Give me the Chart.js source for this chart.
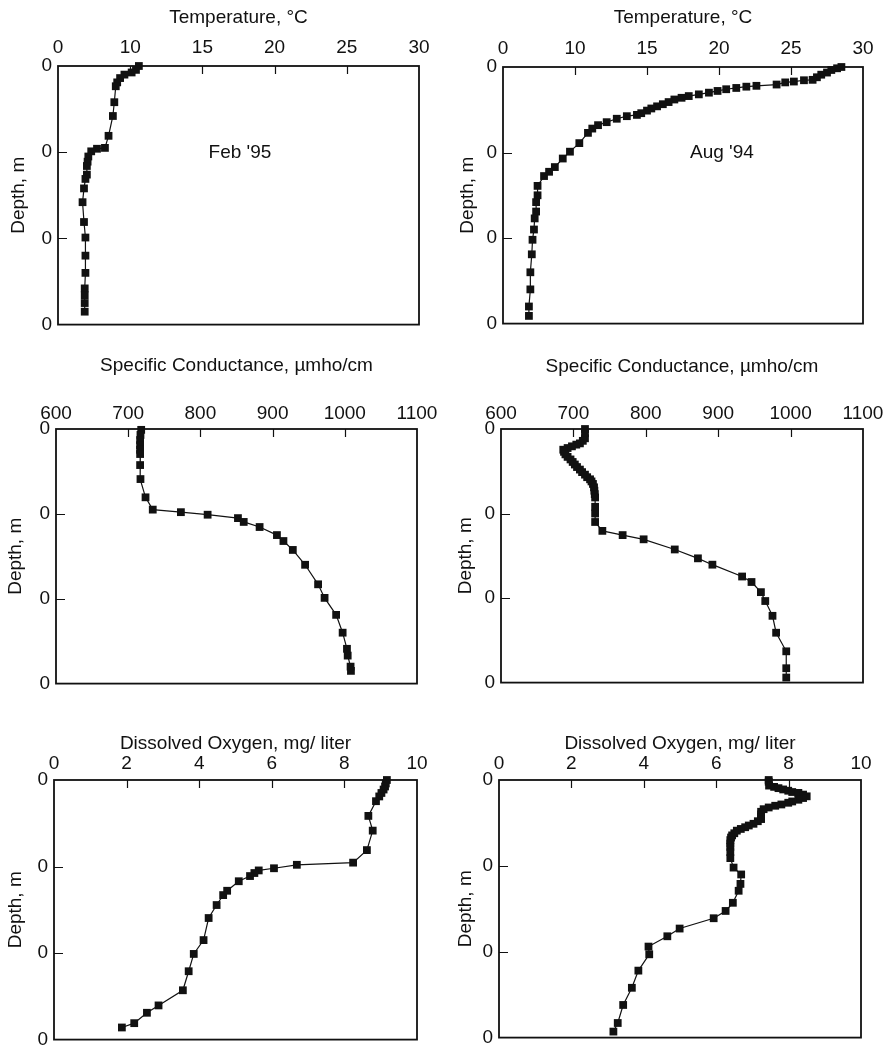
<!DOCTYPE html>
<html>
<head>
<meta charset="utf-8">
<script src="https://cdn.jsdelivr.net/npm/chart.js@4.4.0/dist/chart.umd.min.js"></script>
<style>
  html, body { margin: 0; padding: 0; background: #fff; overflow: hidden; }
  #page { position: relative; width: 887px; height: 1050px; }
  canvas { position: absolute; }
</style>
</head>
<body>
<div id="page">
  <canvas id="tempFeb"></canvas>
  <canvas id="tempAug"></canvas>
  <canvas id="condFeb"></canvas>
  <canvas id="condAug"></canvas>
  <canvas id="doFeb"></canvas>
  <canvas id="doAug"></canvas>
</div>
<script>
// depth axis (shared)
const depthTicks = [0, 10, 20, 30];
const depthTickLabels = ['0', '0', '0', '0'];

// x axes
const tempTicks = [5, 10, 15, 20, 25, 30];
const tempTickLabels = ['0', '10', '15', '20', '25', '30'];
const condTicks = [600, 700, 800, 900, 1000, 1100];
const condTickLabels = ['600', '700', '800', '900', '1000', '1100'];
const doTicks = [0, 2, 4, 6, 8, 10];
const doTickLabels = ['0', '2', '4', '6', '8', '10'];

// Feb '95 temperature profile
const tempFebT = [10.6, 10.4, 10.1, 9.6, 9.3, 9.1, 9.0, 8.9, 8.8, 8.5, 8.25, 7.7, 7.3, 7.1, 7.05, 7.0, 7.0, 6.9, 6.8, 6.7, 6.8, 6.9, 6.9, 6.9, 6.85, 6.85, 6.85, 6.85];
const tempFebD = [0, 0.45, 0.75, 1.0, 1.4, 1.9, 2.35, 4.2, 5.8, 8.1, 9.5, 9.6, 9.9, 10.5, 11.1, 11.6, 12.6, 13.1, 14.2, 15.8, 18.1, 19.9, 22.0, 24.0, 25.8, 26.6, 27.5, 28.5];

// Aug '94 temperature profile
const tempAugT = [28.5, 28.2, 27.8, 27.5, 27.1, 26.8, 26.5, 25.9, 25.2, 24.6, 24.0, 22.6, 21.9, 21.2, 20.5, 19.9, 19.3, 18.6, 17.9, 17.4, 16.9, 16.5, 16.1, 15.7, 15.3, 15.0, 14.6, 14.3, 13.6, 12.9, 12.2, 11.6, 11.2, 10.9, 10.3, 9.65, 9.15, 8.6, 8.2, 7.85, 7.4, 7.4, 7.3, 7.3, 7.2, 7.15, 7.05, 7.0, 6.9, 6.9, 6.8, 6.8];
const tempAugD = [0, 0.15, 0.35, 0.65, 0.9, 1.2, 1.5, 1.55, 1.7, 1.8, 2.05, 2.2, 2.3, 2.45, 2.6, 2.8, 3.0, 3.2, 3.4, 3.6, 3.8, 4.1, 4.35, 4.6, 4.85, 5.1, 5.4, 5.6, 5.75, 6.05, 6.45, 6.8, 7.2, 7.7, 8.9, 9.9, 10.7, 11.7, 12.25, 12.75, 13.9, 15.0, 15.8, 16.9, 17.7, 19.0, 20.2, 21.9, 24.0, 26.0, 28.0, 29.1];

// specific conductance
const condFebC = [718, 717, 716.5, 716.5, 716.5, 716.5, 716.5, 717, 724, 734, 773, 810, 852, 860, 882, 906, 915, 928, 945, 963, 972, 988, 997, 1003, 1004, 1008, 1008.5];
const condFebD = [0.1, 0.7, 1.3, 1.9, 2.45, 2.95, 4.25, 5.9, 8.05, 9.5, 9.8, 10.1, 10.5, 10.95, 11.55, 12.5, 13.2, 14.25, 16.0, 18.3, 19.9, 21.9, 24.0, 25.9, 26.7, 28.0, 28.5];
const condAugC = [716, 716, 716, 713, 709, 704, 698, 692, 686, 687, 689, 692, 696, 699, 702, 705, 709, 712, 716, 719, 723, 725, 727, 728.5, 729, 729.5, 730, 730, 730, 730, 740, 768, 797, 840, 872, 892, 933, 946, 959, 965, 975, 980, 994, 994, 994];
const condAugD = [0, 0.5, 1.1, 1.4, 1.7, 1.85, 2.05, 2.25, 2.45, 2.7, 3.0, 3.3, 3.6, 3.9, 4.2, 4.5, 4.8, 5.1, 5.4, 5.7, 5.95, 6.2, 6.5, 6.9, 7.3, 7.7, 8.1, 9.2, 10.0, 11.0, 12.05, 12.55, 13.05, 14.25, 15.3, 16.05, 17.45, 18.1, 19.3, 20.35, 22.1, 24.1, 26.3, 28.3, 29.4];

// dissolved oxygen
const doFebV = [9.17, 9.14, 9.12, 9.08, 9.02, 8.96, 8.87, 8.66, 8.78, 8.62, 8.24, 6.69, 6.06, 5.64, 5.52, 5.4, 5.09, 4.77, 4.66, 4.48, 4.26, 4.12, 3.85, 3.71, 3.55, 2.88, 2.56, 2.21, 1.87];
const doFebD = [0, 0.4, 0.75, 1.1, 1.5, 1.9, 2.45, 4.15, 5.85, 8.1, 9.55, 9.8, 10.2, 10.45, 10.75, 11.1, 11.7, 12.8, 13.3, 14.45, 15.95, 18.5, 20.1, 22.1, 24.3, 26.05, 26.9, 28.1, 28.6];
const doAugV = [7.45, 7.45, 7.46, 7.6, 7.72, 7.85, 7.99, 8.1, 8.27, 8.4, 8.5, 8.4, 8.27, 8.1, 7.99, 7.8, 7.63, 7.45, 7.31, 7.24, 7.24, 7.24, 7.24, 7.15, 7.03, 6.9, 6.8, 6.68, 6.57, 6.5, 6.44, 6.41, 6.39, 6.39, 6.39, 6.39, 6.39, 6.48, 6.69, 6.67, 6.62, 6.46, 6.26, 5.93, 4.99, 4.65, 4.13, 4.15, 3.85, 3.67, 3.43, 3.28, 3.16];
const doAugD = [0, 0.2, 0.65, 0.8, 0.95, 1.1, 1.25, 1.4, 1.5, 1.7, 1.9, 2.1, 2.3, 2.5, 2.65, 2.85, 3.0, 3.2, 3.4, 3.7, 4.0, 4.3, 4.55, 4.8, 5.1, 5.3, 5.5, 5.7, 5.9, 6.2, 6.45, 6.7, 7.0, 7.4, 7.8, 8.4, 9.1, 10.2, 11.0, 12.1, 12.9, 14.3, 15.25, 16.1, 17.3, 18.2, 19.4, 20.3, 22.2, 24.2, 26.2, 28.3, 29.3];

Chart.defaults.font.family = "'Liberation Sans', Arial, sans-serif";
Chart.defaults.color = '#111';

// box frame + inward tick marks + panel note
const framePlugin = {
  id: 'frame',
  afterDraw(chart, args, opts) {
    const { ctx, chartArea: a, scales } = chart;
    ctx.save();
    ctx.strokeStyle = '#111';
    ctx.lineWidth = 1.2;
    ctx.beginPath();
    scales.x.ticks.forEach((t, i, arr) => {
      if (i === 0 || i === arr.length - 1) return;
      const px = Math.round(scales.x.getPixelForValue(t.value)) + 0.5;
      ctx.moveTo(px, a.top);
      ctx.lineTo(px, a.top + 8);
    });
    scales.y.ticks.forEach((t, i, arr) => {
      if (i === 0 || i === arr.length - 1) return;
      const py = Math.round(scales.y.getPixelForValue(t.value)) + 0.5;
      ctx.moveTo(a.left, py);
      ctx.lineTo(a.left + 9, py);
    });
    ctx.stroke();
    ctx.lineWidth = 1.8;
    ctx.strokeRect(a.left, a.top, a.right - a.left, a.bottom - a.top);
    if (opts.text) {
      ctx.fillStyle = '#111';
      ctx.font = "19px 'Liberation Sans', Arial, sans-serif";
      ctx.textAlign = 'center';
      ctx.textBaseline = 'middle';
      ctx.fillText(opts.text, scales.x.getPixelForValue(opts.x), scales.y.getPixelForValue(opts.y));
    }
    ctx.restore();
  }
};

function makePanel(id, box, xs, ys, xTitle, xTicks, xLabels, xPad, note) {
  const xMin = xTicks[0], xMax = xTicks[xTicks.length - 1];
  const canvas = document.getElementById(id);
  const w = box.R + 25 - box.cl;
  const h = box.B + 12 - box.ct;
  canvas.width = w;
  canvas.height = h;
  canvas.style.left = box.cl + 'px';
  canvas.style.top = box.ct + 'px';

  new Chart(canvas.getContext('2d'), {
    type: 'scatter',
    data: {
      datasets: [{
        data: xs.map((v, i) => ({ x: v, y: ys[i] })),
        showLine: true,
        borderColor: '#111',
        borderWidth: 1.2,
        backgroundColor: '#111',
        pointStyle: 'rect',
        pointRadius: 5.5,
        pointBorderWidth: 0,
        clip: false
      }]
    },
    options: {
      responsive: false,
      animation: false,
      layout: { padding: { left: 0, top: 0, right: 25, bottom: 12 } },
      plugins: {
        legend: { display: false },
        tooltip: { enabled: false },
        frame: note || {}
      },
      scales: {
        x: {
          type: 'linear',
          position: 'top',
          min: xMin,
          max: xMax,
          afterBuildTicks: s => { s.ticks = xTicks.map(v => ({ value: v })); },
          afterFit: s => { s.height = box.T - box.ct; },
          ticks: {
            font: { size: 19 },
            padding: xPad,
            maxRotation: 0,
            autoSkip: false,
            callback: (v, i) => xLabels[i]
          },
          grid: { display: false, drawTicks: false },
          border: { display: false },
          title: { display: true, text: xTitle, font: { size: 19 }, padding: 0 }
        },
        y: {
          type: 'linear',
          reverse: true,
          min: 0,
          max: 30,
          afterBuildTicks: s => { s.ticks = depthTicks.map(v => ({ value: v })); },
          afterFit: s => { s.width = box.L - box.cl; },
          ticks: {
            font: { size: 19 },
            padding: 6,
            autoSkip: false,
            callback: (v, i) => depthTickLabels[i]
          },
          grid: { display: false, drawTicks: false },
          border: { display: false },
          title: { display: true, text: 'Depth, m', font: { size: 19 }, padding: 0 }
        }
      }
    },
    plugins: [framePlugin]
  });
}

makePanel('tempFeb', { cl: 7, ct: 6, L: 58, T: 66, R: 419, B: 330 },
  tempFebT, tempFebD, 'Temperature, °C', tempTicks, tempTickLabels, 7,
  { text: "Feb '95", x: 17.6, y: 10.1 });
makePanel('tempAug', { cl: 456, ct: 6, L: 503, T: 67, R: 863, B: 329 },
  tempAugT, tempAugD, 'Temperature, °C', tempTicks, tempTickLabels, 7,
  { text: "Aug '94", x: 20.2, y: 10.0 });
makePanel('condFeb', { cl: 4, ct: 354, L: 56, T: 429, R: 417, B: 689 },
  condFebC, condFebD, 'Specific Conductance, µmho/cm', condTicks, condTickLabels, 4);
makePanel('condAug', { cl: 454, ct: 355, L: 501, T: 429, R: 863, B: 688 },
  condAugC, condAugD, 'Specific Conductance, µmho/cm', condTicks, condTickLabels, 4);
makePanel('doFeb', { cl: 4, ct: 732, L: 54, T: 780, R: 417, B: 1045 },
  doFebV, doFebD, 'Dissolved Oxygen, mg/ liter', doTicks, doTickLabels, 5);
makePanel('doAug', { cl: 454, ct: 732, L: 499, T: 780, R: 861, B: 1043 },
  doAugV, doAugD, 'Dissolved Oxygen, mg/ liter', doTicks, doTickLabels, 5);
</script>
</body>
</html>
